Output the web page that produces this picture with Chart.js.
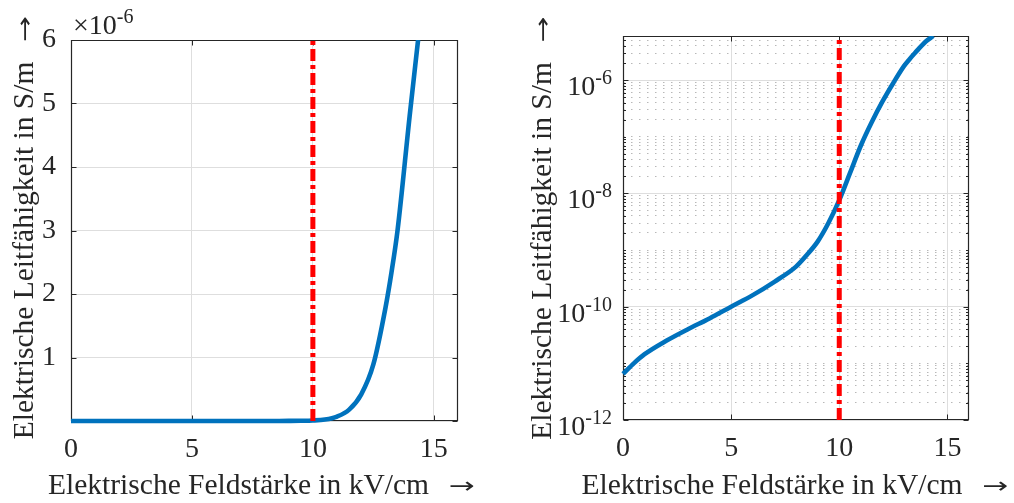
<!DOCTYPE html>
<html>
<head>
<meta charset="utf-8">
<script src="https://cdn.jsdelivr.net/npm/chart.js@4/dist/chart.umd.min.js"></script>
<style>
  html, body { margin: 0; padding: 0; background: #ffffff; }
  #wrap { position: relative; width: 1014px; height: 503px; overflow: hidden; }
  canvas { position: absolute; top: 0; }
</style>
</head>
<body>
<div id="wrap">
  <canvas id="linChart" width="507" height="503" style="left:0;width:507px;height:503px"></canvas>
  <canvas id="logChart" width="507" height="503" style="left:507px;width:507px;height:503px"></canvas>
</div>
<script>
// ---------- data ----------
const fieldStrength = [0, 0.5, 1, 2, 3, 4, 5, 6, 7, 8, 8.5, 9, 9.5, 10, 10.5, 11, 11.5, 12, 12.5, 13, 13.25, 13.5, 14, 14.35];
const conductivity  = [6.5e-12, 1.0e-11, 1.45e-11, 2.5e-11, 4.0e-11, 6.2e-11, 1.0e-10, 1.6e-10, 2.75e-10, 5.1e-10, 8.2e-10,
                       1.41e-9, 3.0e-9, 7.6e-9, 2.3e-8, 7.0e-8, 1.8e-7, 4.2e-7, 8.9e-7, 1.78e-6, 2.34e-6, 3.0e-6, 4.8e-6, 6.0e-6];
const thresholdField = [10, 10];
const linearLimits = [0, 6e-6];
const logLimits = [1e-12, 6e-6];
const xLimits = [0, 16];
const xTickValues = [0, 5, 10, 15];
const linearTickValues = [0, 1e-6, 2e-6, 3e-6, 4e-6, 5e-6, 6e-6];
const logLabelExponents = [-12, -10, -8, -6];
const xTitle = 'Elektrische Feldstärke in kV/cm';
const yTitle = 'Elektrische Leitfähigkeit in S/m';
const titleArrow = '\u2192';
const linearExponentBase = '\u00d710';
const linearExponentSup = '-6';

// ---------- styling ----------
const FAMILY = "'Liberation Serif', 'Times New Roman', Times, serif";
const ARROW_FAMILY = "'DejaVu Sans', sans-serif";
const TEXT = '#262626';
const AXIS = '#262626';
const GRID_MAJOR = '#dedede';
const GRID_MINOR = '#b8b8b8';
const BLUE = '#0072BD';
const RED = '#FF0000';
const TICK_FONT = 28;
const TITLE_FONT = 29.5;
const SUP_FONT = 20;
const ARROW_FONT = 22;
const ARROW_LEN = 26;
const ARROW_GAP = 20;

// all minor/major positions of the log axis
const logTickValues = [];
for (let e = -12; e <= -6; e++) {
  for (let m = 1; m <= 9; m++) {
    const v = Number(m + 'e' + e);
    if (v <= logLimits[1] * (1 + 1e-9)) logTickValues.push(v);
  }
}
function isLabelledDecade(v) {
  const l = Math.log10(v), r = Math.round(l);
  return Math.abs(l - r) < 1e-9 && logLabelExponents.includes(r);
}

function drawSuper(ctx, base, sup, x, baseY, align) {
  ctx.textBaseline = 'alphabetic';
  ctx.textAlign = 'left';
  ctx.font = TICK_FONT + 'px ' + FAMILY;
  const wb = ctx.measureText(base).width;
  ctx.font = SUP_FONT + 'px ' + FAMILY;
  const ws = ctx.measureText(sup).width;
  const x0 = align === 'right' ? x - wb - ws : x;
  ctx.font = TICK_FONT + 'px ' + FAMILY;
  ctx.fillText(base, x0, baseY);
  ctx.font = SUP_FONT + 'px ' + FAMILY;
  ctx.fillText(sup, x0 + wb, baseY - 11);
}

// title followed by an arrow, drawn along the local x axis, centred on 0
function drawTitleWithArrow(ctx, text) {
  ctx.textBaseline = 'alphabetic';
  ctx.textAlign = 'left';
  ctx.font = TITLE_FONT + 'px ' + FAMILY;
  const wt = ctx.measureText(text).width;
  const start = -(wt + ARROW_GAP + ARROW_LEN) / 2;
  ctx.fillText(text, start, 0);
  ctx.font = ARROW_FONT + 'px ' + ARROW_FAMILY;
  const wa = ctx.measureText(titleArrow).width;
  ctx.save();
  ctx.translate(start + wt + ARROW_GAP, -1);
  ctx.scale(ARROW_LEN / wa, 1);
  ctx.fillText(titleArrow, 0, 0);
  ctx.restore();
}

const matlabFrame = {
  id: 'matlabFrame',
  beforeDatasetsDraw(chart, args, o) {
    const { ctx, chartArea: a } = chart;
    const xs = chart.scales.x, ys = chart.scales.y;
    ctx.save();
    ctx.strokeStyle = AXIS;
    ctx.lineWidth = 1;
    const L = Math.round(a.left) + 0.5, R = Math.round(a.right) - 0.5;
    const T = Math.round(a.top) + 0.5, B = Math.round(a.bottom) - 0.5;
    ctx.beginPath();
    xTickValues.forEach(v => {
      const px = Math.round(xs.getPixelForValue(v)) + 0.5;
      ctx.moveTo(px, B); ctx.lineTo(px, B - 5);
      ctx.moveTo(px, T); ctx.lineTo(px, T + 5);
    });
    o.yMajor.forEach(v => {
      const py = Math.round(ys.getPixelForValue(v)) + 0.5;
      ctx.moveTo(L, py); ctx.lineTo(L + 5, py);
      ctx.moveTo(R, py); ctx.lineTo(R - 5, py);
    });
    (o.yMinor || []).forEach(v => {
      const py = Math.round(ys.getPixelForValue(v)) + 0.5;
      ctx.moveTo(L, py); ctx.lineTo(L + 2.5, py);
      ctx.moveTo(R, py); ctx.lineTo(R - 2.5, py);
    });
    ctx.stroke();
    ctx.lineWidth = 1.2;
    ctx.beginPath();
    ctx.rect(L, T, R - L, B - T);
    ctx.stroke();
    ctx.restore();
  },
  afterDraw(chart, args, o) {
    const { ctx, chartArea: a } = chart;
    ctx.save();
    ctx.fillStyle = TEXT;
    // x title
    ctx.save();
    ctx.translate((a.left + a.right) / 2 + o.xTitleShift, o.xTitleBaseline);
    drawTitleWithArrow(ctx, xTitle);
    ctx.restore();
    // y title (rotated)
    ctx.save();
    ctx.translate(o.yTitleBaseline, (a.top + a.bottom) / 2 + o.yTitleShift);
    ctx.rotate(-Math.PI / 2);
    drawTitleWithArrow(ctx, yTitle);
    ctx.restore();
    // exponent on linear axis
    if (o.exponent) {
      drawSuper(ctx, linearExponentBase, linearExponentSup, a.left + 2, 34, 'left');
    }
    // superscript labels on log axis
    if (o.logLabels) {
      const ys = chart.scales.y;
      logLabelExponents.forEach(e => {
        const py = ys.getPixelForValue(Math.pow(10, e));
        drawSuper(ctx, '10', String(e), a.left - 11, py + 15, 'right');
      });
    }
    ctx.restore();
  }
};

function baseX(height) {
  return {
    type: 'linear', min: xLimits[0], max: xLimits[1],
    afterBuildTicks: s => { s.ticks = xTickValues.map(v => ({ value: v })); },
    afterFit: s => { s.height = height; },
    grid: { color: GRID_MAJOR, lineWidth: 1, drawTicks: false },
    border: { display: false },
    ticks: { padding: 12, autoSkip: false, maxRotation: 0, color: TEXT,
             font: { size: TICK_FONT, family: FAMILY } }
  };
}

function curveDatasets(limits) {
  return [
    { data: thresholdField.map((x, i) => ({ x, y: limits[i] })),
      borderColor: RED, borderWidth: 5, borderDash: [12, 4, 4, 4], pointRadius: 0, fill: false,
      clip: { left: 3, right: 3, top: 0, bottom: 0 } },
    { data: fieldStrength.map((x, i) => ({ x, y: conductivity[i] })),
      borderColor: BLUE, borderWidth: 4.6, pointRadius: 0, fill: false, cubicInterpolationMode: 'monotone',
      clip: { left: 3, right: 3, top: 0, bottom: 3 } }
  ];
}

// ---------- left chart: linear ----------
new Chart(document.getElementById('linChart'), {
  type: 'line',
  data: { datasets: curveDatasets(linearLimits) },
  options: {
    responsive: false, animation: false, devicePixelRatio: 1,
    layout: { padding: { left: 0, top: 40, right: 49, bottom: 0 } },
    plugins: {
      legend: { display: false }, tooltip: { enabled: false },
      matlabFrame: { yMajor: linearTickValues, exponent: true, xTitleBaseline: 494, xTitleShift: -3,
                     yTitleBaseline: 33, yTitleShift: -3 }
    },
    scales: {
      x: baseX(82),
      y: {
        type: 'linear', min: linearLimits[0], max: linearLimits[1],
        afterBuildTicks: s => { s.ticks = linearTickValues.map(v => ({ value: v })); },
        afterFit: s => { s.width = 71; },
        grid: { color: GRID_MAJOR, lineWidth: 1, drawTicks: false },
        border: { display: false },
        ticks: { padding: 15, autoSkip: false, color: TEXT, font: { size: TICK_FONT, family: FAMILY },
                 callback: v => (Math.abs(v) < 1e-12 ? '' : String(Math.round(v * 1e6))) }
      }
    }
  },
  plugins: [matlabFrame]
});

// ---------- right chart: logarithmic ----------
new Chart(document.getElementById('logChart'), {
  type: 'line',
  data: { datasets: curveDatasets(logLimits) },
  options: {
    responsive: false, animation: false, devicePixelRatio: 1,
    layout: { padding: { left: 0, top: 36, right: 45, bottom: 0 } },
    plugins: {
      legend: { display: false }, tooltip: { enabled: false },
      matlabFrame: {
        yMajor: logTickValues.filter(isLabelledDecade),
        yMinor: logTickValues.filter(v => !isLabelledDecade(v)),
        logLabels: true, xTitleBaseline: 494, xTitleShift: -1, yTitleBaseline: 44, yTitleShift: 0
      }
    },
    scales: {
      x: baseX(83),
      y: {
        type: 'logarithmic', min: logLimits[0], max: logLimits[1],
        afterBuildTicks: s => { s.ticks = logTickValues.map(v => ({ value: v })); },
        afterFit: s => { s.width = 116; },
        grid: { drawTicks: false, lineWidth: 1,
                color: c => (c.tick && isLabelledDecade(c.tick.value) ? GRID_MAJOR : GRID_MINOR) },
        border: { display: false,
                  dash: c => (c.tick && isLabelledDecade(c.tick.value) ? [] : [1.5, 6.5]) },
        ticks: { display: false, autoSkip: false }
      }
    }
  },
  plugins: [matlabFrame]
});
</script>
</body>
</html>
